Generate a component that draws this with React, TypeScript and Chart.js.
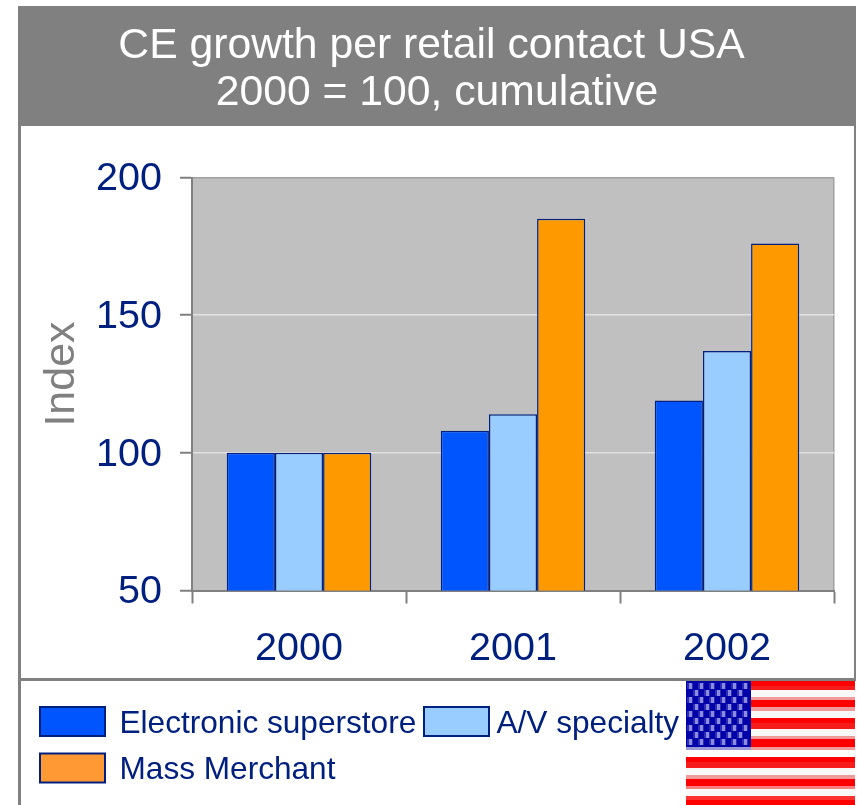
import React, { useEffect, useRef } from "react";
import { Chart, registerables } from "chart.js";

Chart.register(...registerables);

const years = ["2000", "2001", "2002"];
const superstore = [100, 108, 119];
const avSpecialty = [100, 114, 137];
const massMerchant = [100, 185, 176];
const yTicks = [50, 100, 150, 200];
const titleLines = ["CE growth per retail contact USA", "2000 = 100, cumulative"];
const yAxisName = "Index";

const NAVY = "#00207f";
const GREY = "#808080";
const FONT = '"Liberation Sans", Arial, sans-serif';

// Hand-sized stripes of the small flag in the legend corner: top, height, colour.
const stripes: [number, number, string][] = [
  [681, 5, "#ff0000"], [686, 4, "#f61c1c"], [690, 7, "#f8f8f8"], [697, 3, "#f09a9a"],
  [700, 7, "#ff0000"], [707, 4, "#f09a9a"], [711, 7, "#f8f8f8"], [718, 5, "#ff0000"],
  [723, 6, "#f61c1c"], [729, 7, "#f8f8f8"], [736, 3, "#f09a9a"], [739, 8, "#ff0000"],
  [747, 3, "#f09a9a"], [750, 7, "#ffffff"], [757, 5, "#ff0000"], [762, 6, "#f61c1c"],
  [768, 7, "#f8f8f8"], [775, 4, "#f09a9a"], [779, 7, "#ff0000"], [786, 3, "#f88080"],
  [789, 7, "#f8f8f8"], [796, 4, "#ff3030"], [800, 5, "#ff0000"],
];

const panelPlugin = {
  id: "panel",
  beforeDraw(chart: Chart) {
    const { ctx, chartArea: a } = chart;
    ctx.save();
    // Plot background with its thin right edge
    ctx.fillStyle = "#c0c0c0";
    ctx.fillRect(a.left, a.top, a.right - a.left, a.bottom - a.top);
    ctx.fillStyle = "#a0a0a0";
    ctx.fillRect(a.right - 1, a.top, 1.5, a.bottom - a.top);
    ctx.restore();
  },
  afterDraw(chart: Chart) {
    const { ctx } = chart;
    ctx.save();
    // Outer frame and legend divider
    ctx.fillStyle = GREY;
    ctx.fillRect(18, 6, 838, 120);
    ctx.fillRect(18, 126, 3, 679);
    ctx.fillRect(854, 126, 2, 554);
    ctx.fillRect(18, 678, 838, 3);

    // Heading
    ctx.fillStyle = "#ffffff";
    ctx.font = `42.7px ${FONT}`;
    ctx.textAlign = "center";
    ctx.textBaseline = "alphabetic";
    ctx.fillText(titleLines[0], 431.5, 58);
    ctx.fillText(titleLines[1], 437, 105);

    // Value-axis name
    ctx.save();
    ctx.translate(74, 374);
    ctx.rotate(-Math.PI / 2);
    ctx.fillStyle = GREY;
    ctx.font = `43px ${FONT}`;
    ctx.fillText(yAxisName, 0, 0);
    ctx.restore();

    // Legend, laid out in two rows like the dataset order
    const spots = [
      [40, 707, 119.5],
      [424, 707, 496.5],
      [40, 753.5, 119.5],
    ];
    chart.data.datasets.forEach((ds, i) => {
      const [x, y, tx] = spots[i];
      ctx.fillStyle = i === 2 ? "#ff9933" : (ds.backgroundColor as string);
      ctx.fillRect(x, y, 65, 29);
      ctx.strokeStyle = NAVY;
      ctx.lineWidth = 2;
      ctx.strokeRect(x, y, 65, 29);
      ctx.fillStyle = NAVY;
      ctx.font = `31.6px ${FONT}`;
      ctx.textAlign = "left";
      ctx.textBaseline = "middle";
      ctx.fillText(ds.label as string, tx, y + 17);
    });

    // Flag
    stripes.forEach(([y, h, c]) => {
      ctx.fillStyle = c;
      ctx.fillRect(686, y, 169, h);
    });
    ctx.fillStyle = "#0000a8";
    ctx.fillRect(686, 681, 65, 66);
    ctx.fillStyle = "#9a9ad8";
    ctx.fillRect(686, 747, 65, 3);
    for (let row = 0; row < 9; row++) {
      for (let col = 0; col < 6; col++) {
        if (row % 2 && col === 5) continue;
        const cx = 690 + col * 11 + (row % 2 ? 6 : 0);
        const cy = 686 + row * 7;
        ctx.fillStyle = "#2c2cb8";
        ctx.fillRect(cx - 3, cy - 3, 6, 6);
        ctx.fillStyle = "#8c8cdc";
        ctx.fillRect(cx - 1, cy - 3, 3, 6);
      }
    }
    ctx.restore();
  },
};

export default function App() {
  const ref = useRef<HTMLCanvasElement>(null);

  useEffect(() => {
    document.body.style.margin = "0";
    document.body.style.background = "#ffffff";
    const chart = new Chart(ref.current!, {
      type: "bar",
      data: {
        labels: years,
        datasets: [
          { label: "Electronic superstore", data: superstore, backgroundColor: "#0055ff" },
          { label: "A/V specialty", data: avSpecialty, backgroundColor: "#99ccff" },
          { label: "Mass Merchant", data: massMerchant, backgroundColor: "#ff9900" },
        ].map((d) => ({
          ...d,
          borderColor: NAVY,
          borderWidth: 1.5,
          barPercentage: 1,
          categoryPercentage: 0.675,
        })),
      },
      options: {
        responsive: false,
        animation: false,
        layout: { padding: { left: 40, right: 23, top: 177.5, bottom: 130.5 } },
        plugins: { legend: { display: false }, title: { display: false }, tooltip: { enabled: false } },
        scales: {
          x: {
            grid: {
              drawOnChartArea: false,
              drawTicks: true,
              tickLength: 13,
              tickColor: GREY,
              tickWidth: 2,
              offset: true,
            },
            border: { color: GREY, width: 2 },
            ticks: { color: NAVY, font: { size: 39.5, family: FONT }, padding: 22, maxRotation: 0 },
            afterFit(s: any) {
              s.height = 84;
            },
          },
          y: {
            min: 50,
            max: 200,
            afterBuildTicks(s: any) {
              s.ticks = yTicks.map((value) => ({ value }));
            },
            grid: {
              color: (c: any) => (c.tick && c.tick.value === 200 ? "#a0a0a0" : "#e2e2e2"),
              lineWidth: 1.5,
              tickLength: 12,
              tickColor: GREY,
              tickWidth: 2,
            },
            border: { color: GREY, width: 2 },
            ticks: { color: NAVY, font: { size: 39.5, family: FONT }, padding: 18, labelOffset: 2 },
            afterFit(s: any) {
              s.width = 152;
            },
          },
        },
      },
      plugins: [panelPlugin],
    });
    return () => chart.destroy();
  }, []);

  return <canvas ref={ref} width={857} height={805} style={{ display: "block" }} />;
}
